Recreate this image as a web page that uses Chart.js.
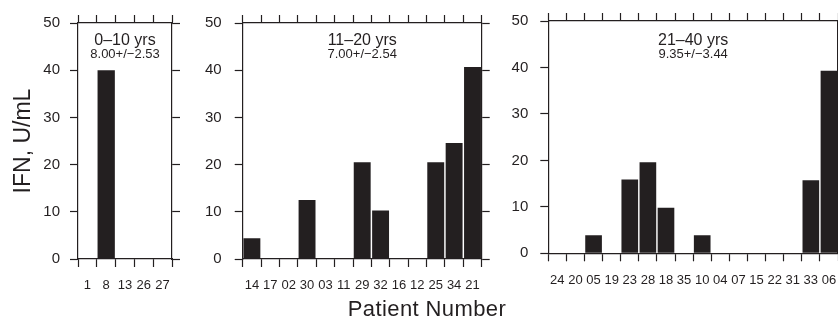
<!DOCTYPE html>
<html>
<head>
<meta charset="utf-8">
<script src="https://cdn.jsdelivr.net/npm/chart.js@4.4.1/dist/chart.umd.min.js"></script>
<style>
  html, body { margin: 0; padding: 0; background: #fff; }
  body { width: 838px; height: 320px; position: relative; overflow: hidden; }
  canvas { position: absolute; left: 0; top: 0; }
  #xTitle {
    position: absolute; left: 427px; top: 298px; transform: translateX(-50%);
    font: 22px "Liberation Sans", Arial, Helvetica, sans-serif; line-height: 22px;
    color: #231f20; white-space: nowrap; letter-spacing: 0.4px;
  }
</style>
</head>
<body>
<canvas id="panel1" width="900" height="320"></canvas>
<canvas id="panel2" width="900" height="320"></canvas>
<canvas id="panel3" width="900" height="320"></canvas>
<div id="xTitle">Patient Number</div>
<script>
// values (IFN, U/mL per patient)
const ageGroups = ["0–10 yrs", "11–20 yrs", "21–40 yrs"];
const groupStats = ["8.00+/−2.53", "7.00+/−2.54", "9.35+/−3.44"];

const patients0to10 = ["1", "8", "13", "26", "27"];
const ifn0to10 = [0, 40, 0, 0, 0];

const patients11to20 = ["14", "17", "02", "30", "03", "11", "29", "32", "16", "12", "25", "34", "21"];
const ifn11to20 = [4.4, 0, 0, 12.5, 0, 0, 20.5, 10.3, 0, 0, 20.5, 24.6, 40.7];

const patients21to40 = ["24", "20", "05", "19", "23", "28", "18", "35", "10", "04", "07", "15", "22", "31", "33", "06"];
const ifn21to40 = [0, 0, 3.9, 0, 15.9, 19.6, 9.8, 0, 3.9, 0, 0, 0, 0, 0, 15.7, 39.3];

const ifnTicks = [0, 10, 20, 30, 40, 50];

const ink = "#231f20";
const family = '"Liberation Sans", Arial, Helvetica, sans-serif';
const canvasW = 900, canvasH = 320;

// draws the age group + mean/sd text inside each panel
const panelLabel = {
    id: "panelLabel",
    afterDraw(chart, args, opts) {
        const ctx = chart.ctx;
        const area = chart.chartArea;
        const x = (area.left + area.right) / 2;
        ctx.save();
        ctx.fillStyle = ink;
        ctx.textAlign = "center";
        ctx.textBaseline = "alphabetic";
        ctx.font = "16px " + family;
        ctx.fillText(opts.group, x, 44.5);
        ctx.font = "13px " + family;
        ctx.fillText(opts.stats, x, 57.5);
        ctx.restore();
    }
};

function axisGrid() {
    return { drawOnChartArea: false, tickLength: 8, tickWidth: 1.2, tickColor: ink, offset: true };
}

function makePanel(id, labels, values, group, stats, area, yPad, withTitle) {
    const leftW = withTitle ? 70 : 60;
    const yMin = ifnTicks[0], yMax = ifnTicks[ifnTicks.length - 1];
    const yStep = ifnTicks[1] - ifnTicks[0];

    return new Chart(document.getElementById(id), {
        type: "bar",
        data: {
            labels: labels,
            datasets: [{
                data: values,
                backgroundColor: ink,
                borderWidth: 0,
                barPercentage: 1,
                categoryPercentage: 0.92,
                xAxisID: "x",
                yAxisID: "y"
            }]
        },
        options: {
            responsive: false,
            animation: false,
            devicePixelRatio: 1,
            layout: {
                padding: {
                    left: area.left - leftW,
                    right: canvasW - area.right - 8,
                    top: area.top - 8,
                    bottom: canvasH - area.bottom - 40
                }
            },
            plugins: {
                legend: { display: false },
                tooltip: { enabled: false },
                panelLabel: { group: group, stats: stats }
            },
            scales: {
                x: {
                    type: "category",
                    position: "bottom",
                    offset: true,
                    grid: axisGrid(),
                    border: { color: ink, width: 1.2 },
                    ticks: {
                        color: ink, padding: 11, maxRotation: 0, autoSkip: false,
                        font: { family: family, size: 13 }
                    },
                    afterFit: s => { s.height = 40; }
                },
                xTop: {
                    type: "category",
                    position: "top",
                    offset: true,
                    grid: axisGrid(),
                    border: { color: ink, width: 1.2 },
                    ticks: { display: false },
                    afterFit: s => { s.height = 8; }
                },
                y: {
                    type: "linear",
                    position: "left",
                    min: yMin, max: yMax,
                    grid: { drawOnChartArea: false, tickLength: 8, tickWidth: 1.2, tickColor: ink },
                    border: { color: ink, width: 1.2 },
                    ticks: {
                        stepSize: yStep, color: ink, padding: yPad,
                        font: { family: family, size: 15 }
                    },
                    title: {
                        display: withTitle,
                        text: "IFN, U/mL",
                        color: ink,
                        padding: { top: 2, bottom: 0 },
                        font: { family: family, size: 23 }
                    },
                    afterFit: s => { s.width = leftW; }
                },
                yRight: {
                    type: "linear",
                    position: "right",
                    min: yMin, max: yMax,
                    grid: { drawOnChartArea: false, tickLength: 8, tickWidth: 1.2, tickColor: ink },
                    border: { color: ink, width: 1.2 },
                    ticks: { display: false, stepSize: yStep },
                    afterFit: s => { s.width = 8; }
                }
            }
        },
        plugins: [panelLabel]
    });
}

makePanel("panel1", patients0to10, ifn0to10, ageGroups[0], groupStats[0],
    { left: 78, right: 172, top: 23, bottom: 259 }, 10, true);
makePanel("panel2", patients11to20, ifn11to20, ageGroups[1], groupStats[1],
    { left: 242.7, right: 481.7, top: 23, bottom: 259 }, 13, false);
makePanel("panel3", patients21to40, ifn21to40, ageGroups[2], groupStats[2],
    { left: 548.3, right: 838, top: 17.5, bottom: 253.3 }, 12, false);
</script>
</body>
</html>
